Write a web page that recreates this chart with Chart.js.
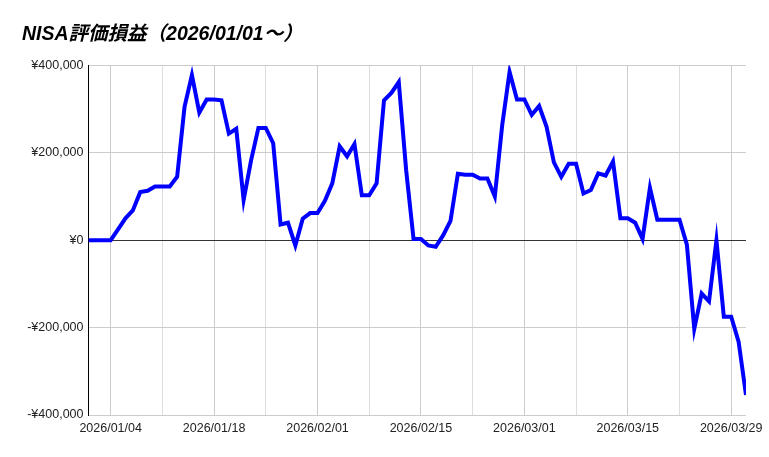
<!DOCTYPE html>
<html>
<head>
<meta charset="utf-8">
<script src="https://cdn.jsdelivr.net/npm/chart.js@4.4.1/dist/chart.umd.min.js"></script>
<style>
    html, body { margin: 0; padding: 0; background: #fff; }
    #wrap { width: 769px; height: 457px; }
</style>
</head>
<body>
<div id="wrap"><canvas id="nisaChart" width="769" height="457"></canvas></div>
<script>
const chartTitle = "NISA評価損益（2026/01/01～）";

// one point per day, 2026/01/01 .. 2026/03/31
const dayCount = 90;

const profit = [
    0, 0, 0, 0, 25000, 50000, 68000, 110000, 113000, 123000,
    123000, 123000, 145000, 305000, 378000, 292000, 322000, 322000, 320000, 244000,
    255000, 92000, 182000, 257000, 257000, 222000, 36000, 40000, -12000, 49000,
    62000, 62000, 90000, 130000, 215000, 192000, 220000, 103000, 103000, 130000,
    320000, 337000, 362000, 160000, 3000, 3000, -12000, -15000, 11000, 44000,
    152000, 150000, 150000, 141000, 141000, 100000, 263000, 385000, 322000, 322000,
    287000, 307000, 260000, 178000, 145000, 175000, 175000, 107000, 115000, 153000,
    148000, 180000, 50000, 50000, 40000, 3000, 120000, 47000, 47000, 47000,
    47000, -10000, -203000, -122000, -140000, 0, -175000, -175000, -232000, -354000
];

// labelled every two weeks, gridlines every week
const tickLabels = ["2026/01/04", "2026/01/18", "2026/02/01", "2026/02/15", "2026/03/01", "2026/03/15", "2026/03/29"];
const weekLines = ["2026/01/11", "2026/01/25", "2026/02/08", "2026/02/22", "2026/03/08", "2026/03/22"];

const yTicks = [-400000, -200000, 0, 200000, 400000];

// daily date strings
const days = [];
const d0 = new Date(Date.UTC(2026, 0, 1));
for (let i = 0; i < dayCount; i++) {
    const d = new Date(d0.getTime() + i * 86400000);
    const mm = String(d.getUTCMonth() + 1).padStart(2, "0");
    const dd = String(d.getUTCDate()).padStart(2, "0");
    days.push(d.getUTCFullYear() + "/" + mm + "/" + dd);
}
const dayIndex = days.map((_, i) => i);
const gridIdx = tickLabels.concat(weekLines).map(s => days.indexOf(s)).sort((a, b) => a - b);

const yen = v => (v < 0 ? "-¥" : "¥") + Math.abs(v).toLocaleString("en-US");

Chart.defaults.font.family = "'Liberation Sans', Arial, 'Noto Sans CJK JP', sans-serif";
Chart.defaults.color = "#222";

const ctx = document.getElementById("nisaChart").getContext("2d");

new Chart(ctx, {
    type: "line",
    data: {
        labels: dayIndex,
        datasets: [{
            label: "NISA",
            data: profit,
            borderColor: "#0000ff",
            borderWidth: 4,
            pointRadius: 0,
            tension: 0,
            fill: false,
            borderJoinStyle: "miter"
        }]
    },
    options: {
        responsive: false,
        animation: false,
        layout: { padding: { left: 22, right: 23, top: 0, bottom: 0 } },
        plugins: {
            legend: { display: false },
            tooltip: { enabled: false },
            title: {
                display: true,
                text: chartTitle,
                align: "start",
                color: "#000",
                font: { size: 19.5, weight: "bold", style: "italic" },
                padding: { top: 23, bottom: 19 }
            }
        },
        scales: {
            x: {
                type: "linear",
                min: 0,
                max: dayCount - 1,
                afterFit: s => { s.height = 42; },
                afterBuildTicks: s => { s.ticks = gridIdx.map(v => ({ value: v })); },
                border: { display: false },
                grid: {
                    drawTicks: false,
                    color: c => c.tick && tickLabels.includes(days[c.tick.value]) ? "#cccccc" : "#dddddd"
                },
                ticks: {
                    autoSkip: false,
                    maxRotation: 0,
                    minRotation: 0,
                    padding: 6,
                    font: { size: 12.5 },
                    callback: v => tickLabels.includes(days[v]) ? days[v] : ""
                }
            },
            y: {
                min: yTicks[0],
                max: yTicks[yTicks.length - 1],
                afterFit: s => { s.width = 66.5; },
                afterBuildTicks: s => { s.ticks = yTicks.map(v => ({ value: v })); },
                border: { display: true, color: "#000", width: 1 },
                grid: {
                    drawTicks: false,
                    color: c => c.tick && c.tick.value === 0 ? "#333333" : "#cccccc"
                },
                ticks: {
                    padding: 5,
                    font: { size: 12.5 },
                    callback: v => yen(v)
                }
            }
        }
    }
});
</script>
</body>
</html>
